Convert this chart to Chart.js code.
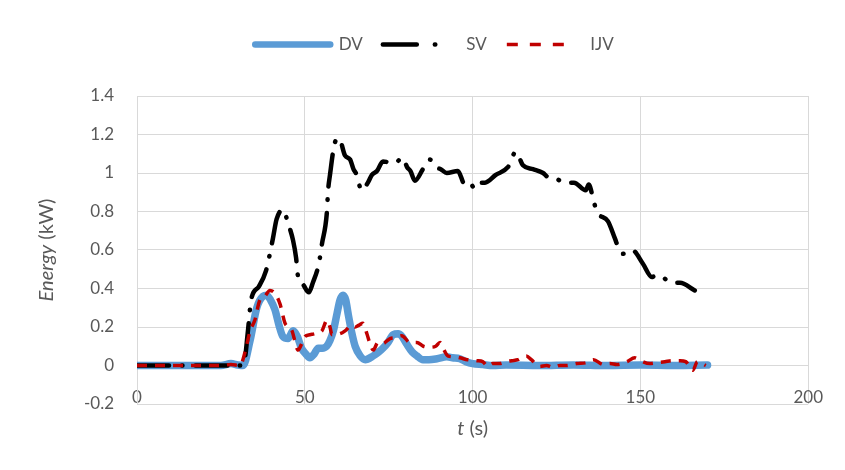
<!DOCTYPE html>
<html>
<head>
<meta charset="utf-8">
<title>Energy</title>
<script src="https://cdn.jsdelivr.net/npm/chart.js@4.4.1/dist/chart.umd.min.js"></script>
<style>
    html, body { margin: 0; padding: 0; background: #ffffff; }
    #energyChart { display: block; }
</style>
</head>
<body>
<canvas id="energyChart" width="845" height="470"></canvas>
<script>
const seriesNames = ['DV', 'SV', 'IJV'];

// DV
const tDV = [0, 5, 10, 15, 20, 25, 28, 30, 31.6, 33.7, 35.7, 37.6, 38.6, 39.8, 41.1, 42.3, 43.5, 45,
    46.5, 47.8, 49, 50.3, 51.5, 52.8, 54, 55.2, 56.5, 57.5, 58.5, 59.6, 60.5, 61.4, 62.2, 62.9, 64, 65,
    66.5, 68, 70.4, 72, 73.3, 74.8, 76.3, 77.8, 79, 80.4, 82, 83.4, 85.2, 87, 89.4, 92.3, 94, 96.2, 98,
    100, 103, 106, 110, 120, 130, 140, 150, 160, 170];
const eDV = [0, 0, 0, 0, 0, 0, 0.01, 0.003, 0, 0.13, 0.30, 0.36, 0.365, 0.34, 0.29, 0.21, 0.15, 0.14,
    0.18, 0.15, 0.09, 0.06, 0.04, 0.06, 0.09, 0.09, 0.10, 0.13, 0.18, 0.27, 0.34, 0.365, 0.34, 0.27, 0.17, 0.10,
    0.05, 0.03, 0.05, 0.07, 0.09, 0.12, 0.16, 0.165, 0.15, 0.11, 0.07, 0.05, 0.03, 0.03, 0.035, 0.045, 0.04, 0.035, 0.02,
    0.01, 0.005, 0, 0.002, 0, 0.003, 0, 0.002, 0, 0.002];

// SV
const tSV = [0, 5, 10, 15, 20, 25, 27, 28.3, 29.5, 31, 32, 33, 34, 36.3, 38.4, 40.5, 41.6, 43.5, 45, 46.5,
    47.4, 48, 49.5, 51.2, 52.4, 54.2, 55.1, 56.6, 56.9, 57.5, 59, 60.2, 62, 63.5, 64.5, 65.2, 67, 68.8, 70, 71.5,
    73.3, 76.7, 79.2, 80.5, 81.5, 82.8, 85.2, 87.3, 89, 90.5, 92.3, 95.6, 97.7, 99, 100.7, 102, 103.7, 106.9, 110.5, 112.9,
    115, 118, 121, 122.5, 124, 126, 127, 130.2, 133.7, 134.6, 136, 137, 140.3, 142.4, 143.5, 144.8, 147.5, 150.7, 153.4, 155,
    156.7, 158, 159.7, 161.8, 166.2];
const eSV = [0, 0, 0, 0, 0, 0, 0, 0.01, 0, 0, 0.02, 0.17, 0.34, 0.41, 0.49, 0.66, 0.76, 0.81, 0.74, 0.65,
    0.56, 0.46, 0.42, 0.38, 0.43, 0.53, 0.63, 0.80, 0.90, 0.99, 1.16, 1.18, 1.09, 1.07, 1.02, 1.00, 0.91, 0.95, 0.99, 1.01,
    1.06, 1.05, 1.08, 1.03, 1.01, 0.96, 1.02, 1.07, 1.03, 1.02, 1.00, 1.01, 0.94, 0.95, 0.92, 0.95, 0.95, 0.99, 1.03, 1.11,
    1.04, 1.02, 1.00, 0.98, 0.98, 0.96, 0.95, 0.95, 0.91, 0.94, 0.86, 0.80, 0.75, 0.66, 0.61, 0.58, 0.60, 0.53, 0.46, 0.47,
    0.46, 0.44, 0.43, 0.43, 0.39];

// IJV
const tIJV = [0, 5, 10, 15, 20, 25, 28, 30.7, 32.2, 33.7, 35.1, 36.6, 38.1, 39.6, 41.1, 42.6, 44.1, 45, 46.2, 47,
    48, 49, 50, 51.5, 53, 55.1, 56.6, 57.5, 58.1, 60.5, 62, 64, 65, 66.2, 67.3, 68.5, 69.5, 70.4, 71.8, 73.3,
    75.4, 77, 78.9, 81.3, 83.4, 85.3, 87.3, 89, 90.3, 91.5, 92.6, 94.5, 96.2, 98.5, 101.3, 103, 104.6, 106, 108, 110,
    111.7, 113.5, 115, 116, 117.5, 120, 122, 124, 126, 128, 131, 134, 136, 139, 141, 143, 146, 148.3, 150, 152.8,
    155, 157.3, 159.5, 161.8, 163.5, 165.6, 167, 169.5];
const eIJV = [0, 0, 0, 0, 0, 0, 0.005, 0, 0.07, 0.18, 0.235, 0.34, 0.36, 0.39, 0.375, 0.32, 0.22, 0.2, 0.18, 0.13,
    0.08, 0.11, 0.15, 0.16, 0.165, 0.18, 0.235, 0.2, 0.16, 0.165, 0.18, 0.21, 0.2, 0.21, 0.22, 0.165, 0.11, 0.08, 0.12, 0.115,
    0.14, 0.145, 0.155, 0.12, 0.12, 0.1, 0.095, 0.1, 0.12, 0.08, 0.05, 0.045, 0.04, 0.03, 0.025, 0.02, -0.005, 0.01, 0.01, 0.02,
    0.025, 0.03, 0.045, 0.05, 0.03, -0.005, 0, -0.01, 0, 0, 0.01, 0.015, 0.03, 0.005, 0.01, 0.005, 0.02, 0.04, 0.025, 0.01,
    0.015, 0.02, 0.025, 0.025, 0.02, -0.025, 0.02, 0];

const xTicks = [0, 50, 100, 150, 200];
const yTicks = [-0.2, 0, 0.2, 0.4, 0.6, 0.8, 1, 1.2, 1.4];
const xTitle = [{ text: 't', italic: true }, { text: ' (s)', italic: false }];
const yTitle = [{ text: 'Energy', italic: true }, { text: ' (kW)', italic: false }];

const textColor = '#595959';
const gridColor = '#d9d9d9';
const fontFamily = 'Lato, "Open Sans", sans-serif';

function toPoints(xs, ys) {
    return xs.map((x, i) => ({ x: x, y: ys[i] }));
}

function drawMixedText(ctx, parts, cx, cy, size) {
    let total = 0;
    parts.forEach(p => {
        ctx.font = (p.italic ? 'italic ' : '') + size + 'px ' + fontFamily;
        total += ctx.measureText(p.text).width;
    });
    let x = cx - total / 2;
    parts.forEach(p => {
        ctx.font = (p.italic ? 'italic ' : '') + size + 'px ' + fontFamily;
        ctx.fillText(p.text, x, cy);
        x += ctx.measureText(p.text).width;
    });
}

// axis titles have an italic part, so they are written by hand
const axisTitles = {
    id: 'axisTitles',
    beforeLayout(chart) {
        const legend = chart.legend;
        if (legend && !legend._gapAdded) {
            const fit = legend.fit;
            legend.fit = function () {
                fit.call(this);
                this.height += 33;
            };
            legend._gapAdded = true;
        }
    },
    afterDraw(chart) {
        const ctx = chart.ctx;
        const area = chart.chartArea;
        ctx.save();
        ctx.fillStyle = textColor;
        ctx.textAlign = 'left';
        ctx.textBaseline = 'middle';
        drawMixedText(ctx, xTitle, (area.left + area.right) / 2, 429, 20);
        ctx.translate(47, (area.top + area.bottom) / 2);
        ctx.rotate(-Math.PI / 2);
        drawMixedText(ctx, yTitle, 0, 0, 20);
        ctx.restore();
    }
};

document.addEventListener('DOMContentLoaded', function () {
    const ctx = document.getElementById('energyChart').getContext('2d');
    new Chart(ctx, {
        type: 'line',
        data: {
            datasets: [{
                label: seriesNames[0],
                data: toPoints(tDV, eDV),
                borderColor: '#5b9bd5',
                backgroundColor: '#5b9bd5',
                borderWidth: 7.5,
                borderCapStyle: 'round',
                borderJoinStyle: 'round',
                order: 3
            }, {
                label: seriesNames[1],
                data: toPoints(tSV, eSV),
                borderColor: '#000000',
                backgroundColor: '#000000',
                borderWidth: 4.5,
                borderDash: [32, 13, 0.5, 13],
                borderCapStyle: 'round',
                borderJoinStyle: 'round',
                order: 2
            }, {
                label: seriesNames[2],
                data: toPoints(tIJV, eIJV),
                borderColor: '#c00000',
                backgroundColor: '#c00000',
                borderWidth: 3.5,
                borderDash: [10, 8],
                borderCapStyle: 'butt',
                order: 1
            }]
        },
        options: {
            responsive: false,
            animation: false,
            elements: {
                point: { radius: 0, hoverRadius: 0 },
                line: { fill: false, cubicInterpolationMode: 'monotone' }
            },
            layout: {
                padding: { top: 16, left: 60, right: 36, bottom: 66 }
            },
            scales: {
                x: {
                    type: 'linear',
                    position: { y: 0 },
                    min: 0,
                    max: 200,
                    afterFit: scale => { scale.height = 0; },
                    afterBuildTicks: scale => { scale.ticks = xTicks.map(v => ({ value: v })); },
                    grid: { color: gridColor, lineWidth: 1, drawTicks: false },
                    border: { display: true, color: gridColor, width: 1 },
                    ticks: {
                        color: textColor,
                        padding: 22,
                        maxRotation: 0,
                        font: { family: fontFamily, size: 17 }
                    }
                },
                y: {
                    type: 'linear',
                    min: -0.2,
                    max: 1.4,
                    afterFit: scale => { scale.width = 77; },
                    afterBuildTicks: scale => { scale.ticks = yTicks.map(v => ({ value: v })); },
                    grid: { color: gridColor, lineWidth: 1, drawTicks: false },
                    border: { display: true, color: gridColor, width: 1 },
                    ticks: {
                        color: textColor,
                        padding: 23,
                        font: { family: fontFamily, size: 17 },
                        callback: v => String(Math.round(v * 10) / 10 || 0)
                    }
                }
            },
            plugins: {
                tooltip: { enabled: false },
                legend: {
                    position: 'top',
                    labels: {
                        color: textColor,
                        font: { family: fontFamily, size: 17 },
                        usePointStyle: true,
                        pointStyleWidth: 75,
                        padding: 20,
                        generateLabels: chart => chart.data.datasets.map((ds, i) => ({
                            text: ds.label,
                            datasetIndex: i,
                            pointStyle: 'line',
                            strokeStyle: ds.borderColor,
                            fillStyle: ds.borderColor,
                            lineWidth: i === 0 ? 6.5 : ds.borderWidth,
                            // legend swatch shows one dash group, as in the original
                            lineDash: i === 1 ? [34, 18, 0.5, 60] : (i === 2 ? [11, 12, 11, 12, 11, 40] : []),
                            lineCap: ds.borderCapStyle,
                            fontColor: textColor,
                            hidden: false
                        }))
                    }
                }
            }
        },
        plugins: [axisTitles]
    });
});
</script>
</body>
</html>
